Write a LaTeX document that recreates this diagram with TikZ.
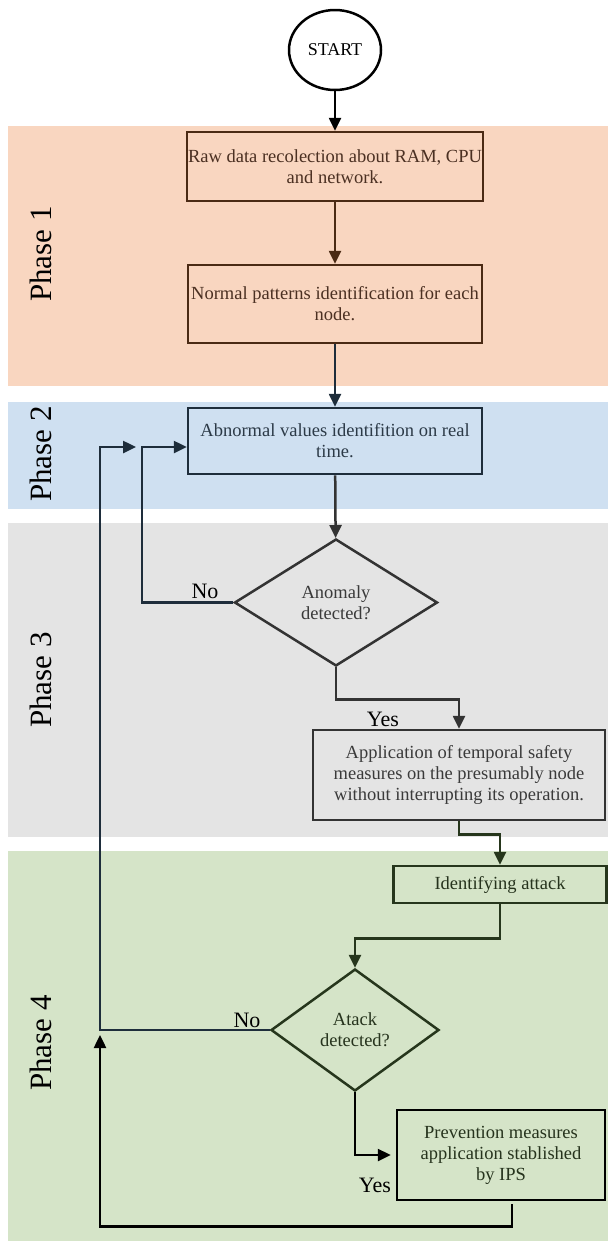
\documentclass[tikz,border=0pt]{standalone}
\usepackage{fontspec}
\setmainfont{Liberation Serif}
\usetikzlibrary{shapes.geometric,arrows.meta,positioning,calc}

\definecolor{bandone}{HTML}{F9D6C0}
\definecolor{bandtwo}{HTML}{CFE0F1}
\definecolor{bandthree}{HTML}{E4E4E4}
\definecolor{bandfour}{HTML}{D5E4C8}
\definecolor{lineone}{HTML}{4B2A14}
\definecolor{textone}{HTML}{4B3022}
\definecolor{linetwo}{HTML}{1E2D3B}
\definecolor{texttwo}{HTML}{2C3A47}
\definecolor{linethree}{HTML}{333333}
\definecolor{textthree}{HTML}{3A3A3A}
\definecolor{linefour}{HTML}{26361C}
\definecolor{textfour}{HTML}{26331D}

\begin{document}
\begin{tikzpicture}[x=1pt, y=-1pt,
  process/.style={draw, line width=2.5pt, inner sep=1pt, align=center, font=\fontsize{18.5}{21}\selectfont},
  decision/.style={diamond, draw, line width=2.5pt, inner sep=0pt, align=center, font=\fontsize{18.5}{21}\selectfont},
  flow/.style={-{Triangle[length=13pt,width=12pt]}, line width=2.5pt},
  answer/.style={font=\fontsize{22}{24}\selectfont},
  phaselabel/.style={rotate=90, font=\fontsize{31}{33}\selectfont},
]
\useasboundingbox (0,0) rectangle (608,1243);

% Phase bands
\fill[bandone] (8,126) rectangle (608,386);
\fill[bandtwo] (8,402) rectangle (608,509);
\fill[bandthree] (8,523) rectangle (608,837);
\fill[bandfour] (8,851) rectangle (608,1241);

\node[phaselabel] (ph1) at (41,254) {Phase 1};
\node[phaselabel] (ph2) at (41,454) {Phase 2};
\node[phaselabel] (ph3) at (41,680) {Phase 3};
\node[phaselabel] (ph4) at (41,1043) {Phase 4};

% Steps
\node[ellipse, draw, line width=2.5pt, fill=white, minimum width=92pt, minimum height=80pt, font=\fontsize{18}{20}\selectfont] (start) at (335,50) {START};
\node[process, draw=lineone, text=textone, minimum width=294pt, minimum height=69pt] (raw) at (335,166.5) {Raw data recolection about RAM, CPU\\and network.};
\node[process, draw=lineone, text=textone, minimum width=294pt, minimum height=78pt] (normal) at (335,304) {Normal patterns identification for each\\node.};
\node[process, draw=linetwo, text=texttwo, minimum width=294pt, minimum height=66pt] (abnormal) at (335,441) {Abnormal values identifition on real\\time.};
\node[decision, draw=linethree, text=textthree, minimum width=203pt, minimum height=127pt] (anomaly) at (336,602.5) {Anomaly\\detected?};
\node[process, draw=linethree, text=textthree, minimum width=292pt, minimum height=90pt] (temporal) at (459,775) {Application of temporal safety\\measures on the presumably node\\without interrupting its operation.};
\node[process, draw=linefour, text=textfour, minimum width=213pt, minimum height=37pt] (identify) at (500,884.5) {Identifying attack};
\node[decision, draw=linefour, text=textfour, minimum width=168pt, minimum height=122pt] (attack) at (355,1030) {Atack\\detected?};
\node[process, draw=black, text=textfour, minimum width=208pt, minimum height=90pt] (prevent) at (501,1155) {Prevention measures\\application stablished\\by IPS};

% Answers
\node[answer] (no1) at (205,591) {No};
\node[answer] (yes1) at (383,719) {Yes};
\node[answer] (no2) at (247,1020) {No};
\node[answer] (yes2) at (375,1185) {Yes};

% Main flow
\draw[flow, black] (start) -- (raw);
\draw[flow, lineone] (raw) -- (normal);
\draw[flow, linetwo] (normal) -- (abnormal);
\draw[flow, linethree] (abnormal) -- (anomaly);
\draw[flow, linethree] (anomaly.south) -- ++(0,32) -| (temporal.north);
\draw[flow, linefour] (temporal.south) -- ++(0,13) -| (identify.north);
\draw[flow, linefour] (identify.south) -- ++(0,34) -| (attack.north);
\draw[flow, black, shorten >=5pt] (attack.south) |- (prevent.west);

% Loops back
\coordinate (loopA) at (142,447);
\coordinate (loopB) at (100,447);
\coordinate (loopBend) at (136,447);
\coordinate (loopC) at (100,1035);
\draw[flow, linetwo] (anomaly.west) -| (loopA) -- (loopA -| abnormal.west);
\draw[flow, linetwo] (attack.west) -| (loopB) -- (loopBend);
\draw[flow, black] ($(prevent.south)+(11,3)$) -- ++(0,22) -| (loopC);

\end{tikzpicture}
\end{document}
